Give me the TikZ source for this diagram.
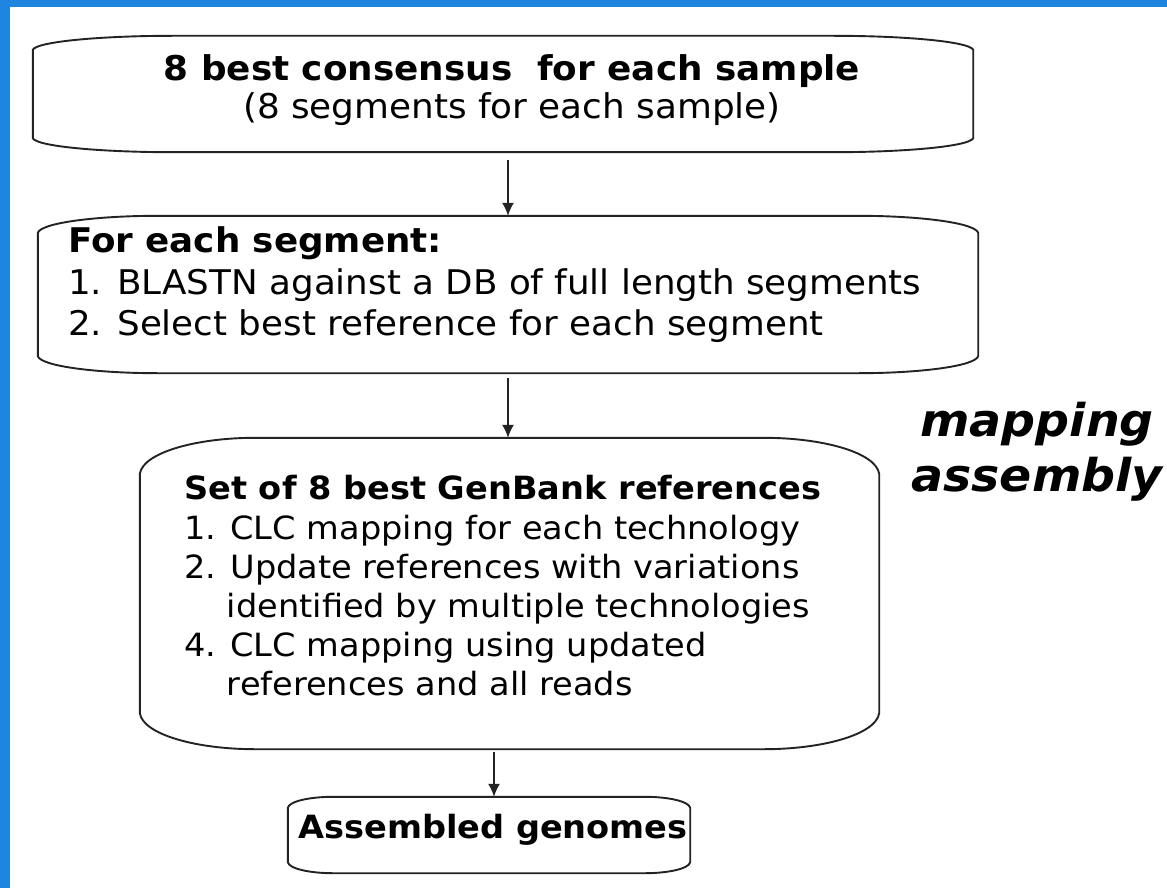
\documentclass[tikz,border=0pt]{standalone}
\usepackage{fontspec}
\setmainfont{DejaVu Sans}[FakeStretch=1.05]
\usetikzlibrary{fit,arrows.meta}

\definecolor{frameblue}{RGB}{30,134,222}
\definecolor{inkline}{RGB}{35,35,35}

\tikzset{
  boxfit/.style={inner sep=0pt, draw=none},
  boxline/.style={draw=inkline, line width=1.9pt},
  lineL/.style={anchor=base west, inner sep=0pt},
  lineC/.style={anchor=base, inner sep=0pt},
  flow/.style={draw=inkline, line width=1.5pt, -{Latex[length=13pt,width=12pt]}},
}

% outline of a box with soft, flattened corners
% #1 node name, #2 horizontal corner size, #3 vertical corner size
\newcommand\softbox[3]{%
  \draw[boxline]
    ([xshift=#2]#1.north west) -- ([xshift=-#2]#1.north east)
    .. controls ([xshift=-0.5*#2]#1.north east) and ([xshift=-0.03*#2,yshift=-0.4*#3]#1.north east) .. ([yshift=-#3]#1.north east)
    -- ([yshift=#3]#1.south east)
    .. controls ([xshift=-0.03*#2,yshift=0.4*#3]#1.south east) and ([xshift=-0.5*#2]#1.south east) .. ([xshift=-#2]#1.south east)
    -- ([xshift=#2]#1.south west)
    .. controls ([xshift=0.5*#2]#1.south west) and ([xshift=0.03*#2,yshift=0.4*#3]#1.south west) .. ([yshift=#3]#1.south west)
    -- ([yshift=-#3]#1.north west)
    .. controls ([xshift=0.03*#2,yshift=-0.4*#3]#1.north west) and ([xshift=0.5*#2]#1.north west) .. ([xshift=#2]#1.north west)
    -- cycle;}

\newcommand\szA{\fontsize{34.1}{40}\selectfont}
\newcommand\szB{\fontsize{34.0}{40}\selectfont}
\newcommand\szC{\fontsize{32.0}{38}\selectfont}
\newcommand\szM{\fontsize{45.2}{52}\selectfont}

\begin{document}
\begin{tikzpicture}[x=1pt, y=-1pt]
  \useasboundingbox (0,0) rectangle (1167,888);
  \fill[white] (0,0) rectangle (1167,888);

  % blue frame along the left and top edges
  \fill[frameblue] (0,0) rectangle (10,888);
  \fill[frameblue] (0,0) rectangle (1167,7);

  % box frames
  \node[boxfit, fit={(33,36) (973,152)}] (b1) {};
  \node[boxfit, fit={(38,216) (978,373)}] (b2) {};
  \node[boxfit, fit={(140,438) (879,749)}] (b3) {};
  \node[boxfit, fit={(288,797) (690,873)}] (b4) {};
  \softbox{b1}{140pt}{14pt}
  \softbox{b2}{120pt}{17pt}
  \softbox{b3}{115pt}{36pt}
  \softbox{b4}{45pt}{11pt}

  % box 1
  \node[lineC, font=\szA\bfseries] (t1a) at (512,81) {8 best consensus~ for each sample};
  \node[lineC, font=\szA] (t1b) at (512,119) {(8 segments for each sample)};

  % box 2
  \node[lineL, font=\szB\bfseries] (t2a) at (68,252) {For each segment:};
  \node[lineL, font=\szB] (t2b) at (68,294) {1. BLASTN against a DB of full length segments};
  \node[lineL, font=\szB] (t2c) at (68,335) {2. Select best reference for each segment};

  % box 3
  \node[lineL, font=\szC\bfseries] (t3a) at (184,499) {Set of 8 best GenBank references};
  \node[lineL, font=\szC] (t3b) at (184,539) {1. CLC mapping for each technology};
  \node[lineL, font=\szC] (t3c) at (184,578) {2. Update references with variations};
  \node[lineL, font=\szC] (t3d) at (184,617) {\phantom{2.}\ identified by multiple technologies};
  \node[lineL, font=\szC] (t3e) at (184,656) {4. CLC mapping using updated};
  \node[lineL, font=\szC] (t3f) at (184,695) {\phantom{4.}\ references and all reads};

  % box 4
  \node[lineC, font=\szC\bfseries] (t4) at (493,838) {Assembled genomes};

  % side label
  \node[lineC, font=\szM\bfseries\itshape] (m1) at (1037,436) {mapping};
  \node[lineC, font=\szM\bfseries\itshape] (m2) at (1037,491) {assembly};

  % connectors
  \coordinate (ax1) at (508,0);
  \coordinate (ax2) at (508,0);
  \coordinate (ax3) at (494,0);
  \draw[flow, shorten <=8pt] (b1.south -| ax1) -- (b2.north -| ax1);
  \draw[flow, shorten <=5pt] (b2.south -| ax2) -- (b3.north -| ax2);
  \draw[flow, shorten <=3pt] (b3.south -| ax3) -- (b4.north -| ax3);
\end{tikzpicture}
\end{document}
